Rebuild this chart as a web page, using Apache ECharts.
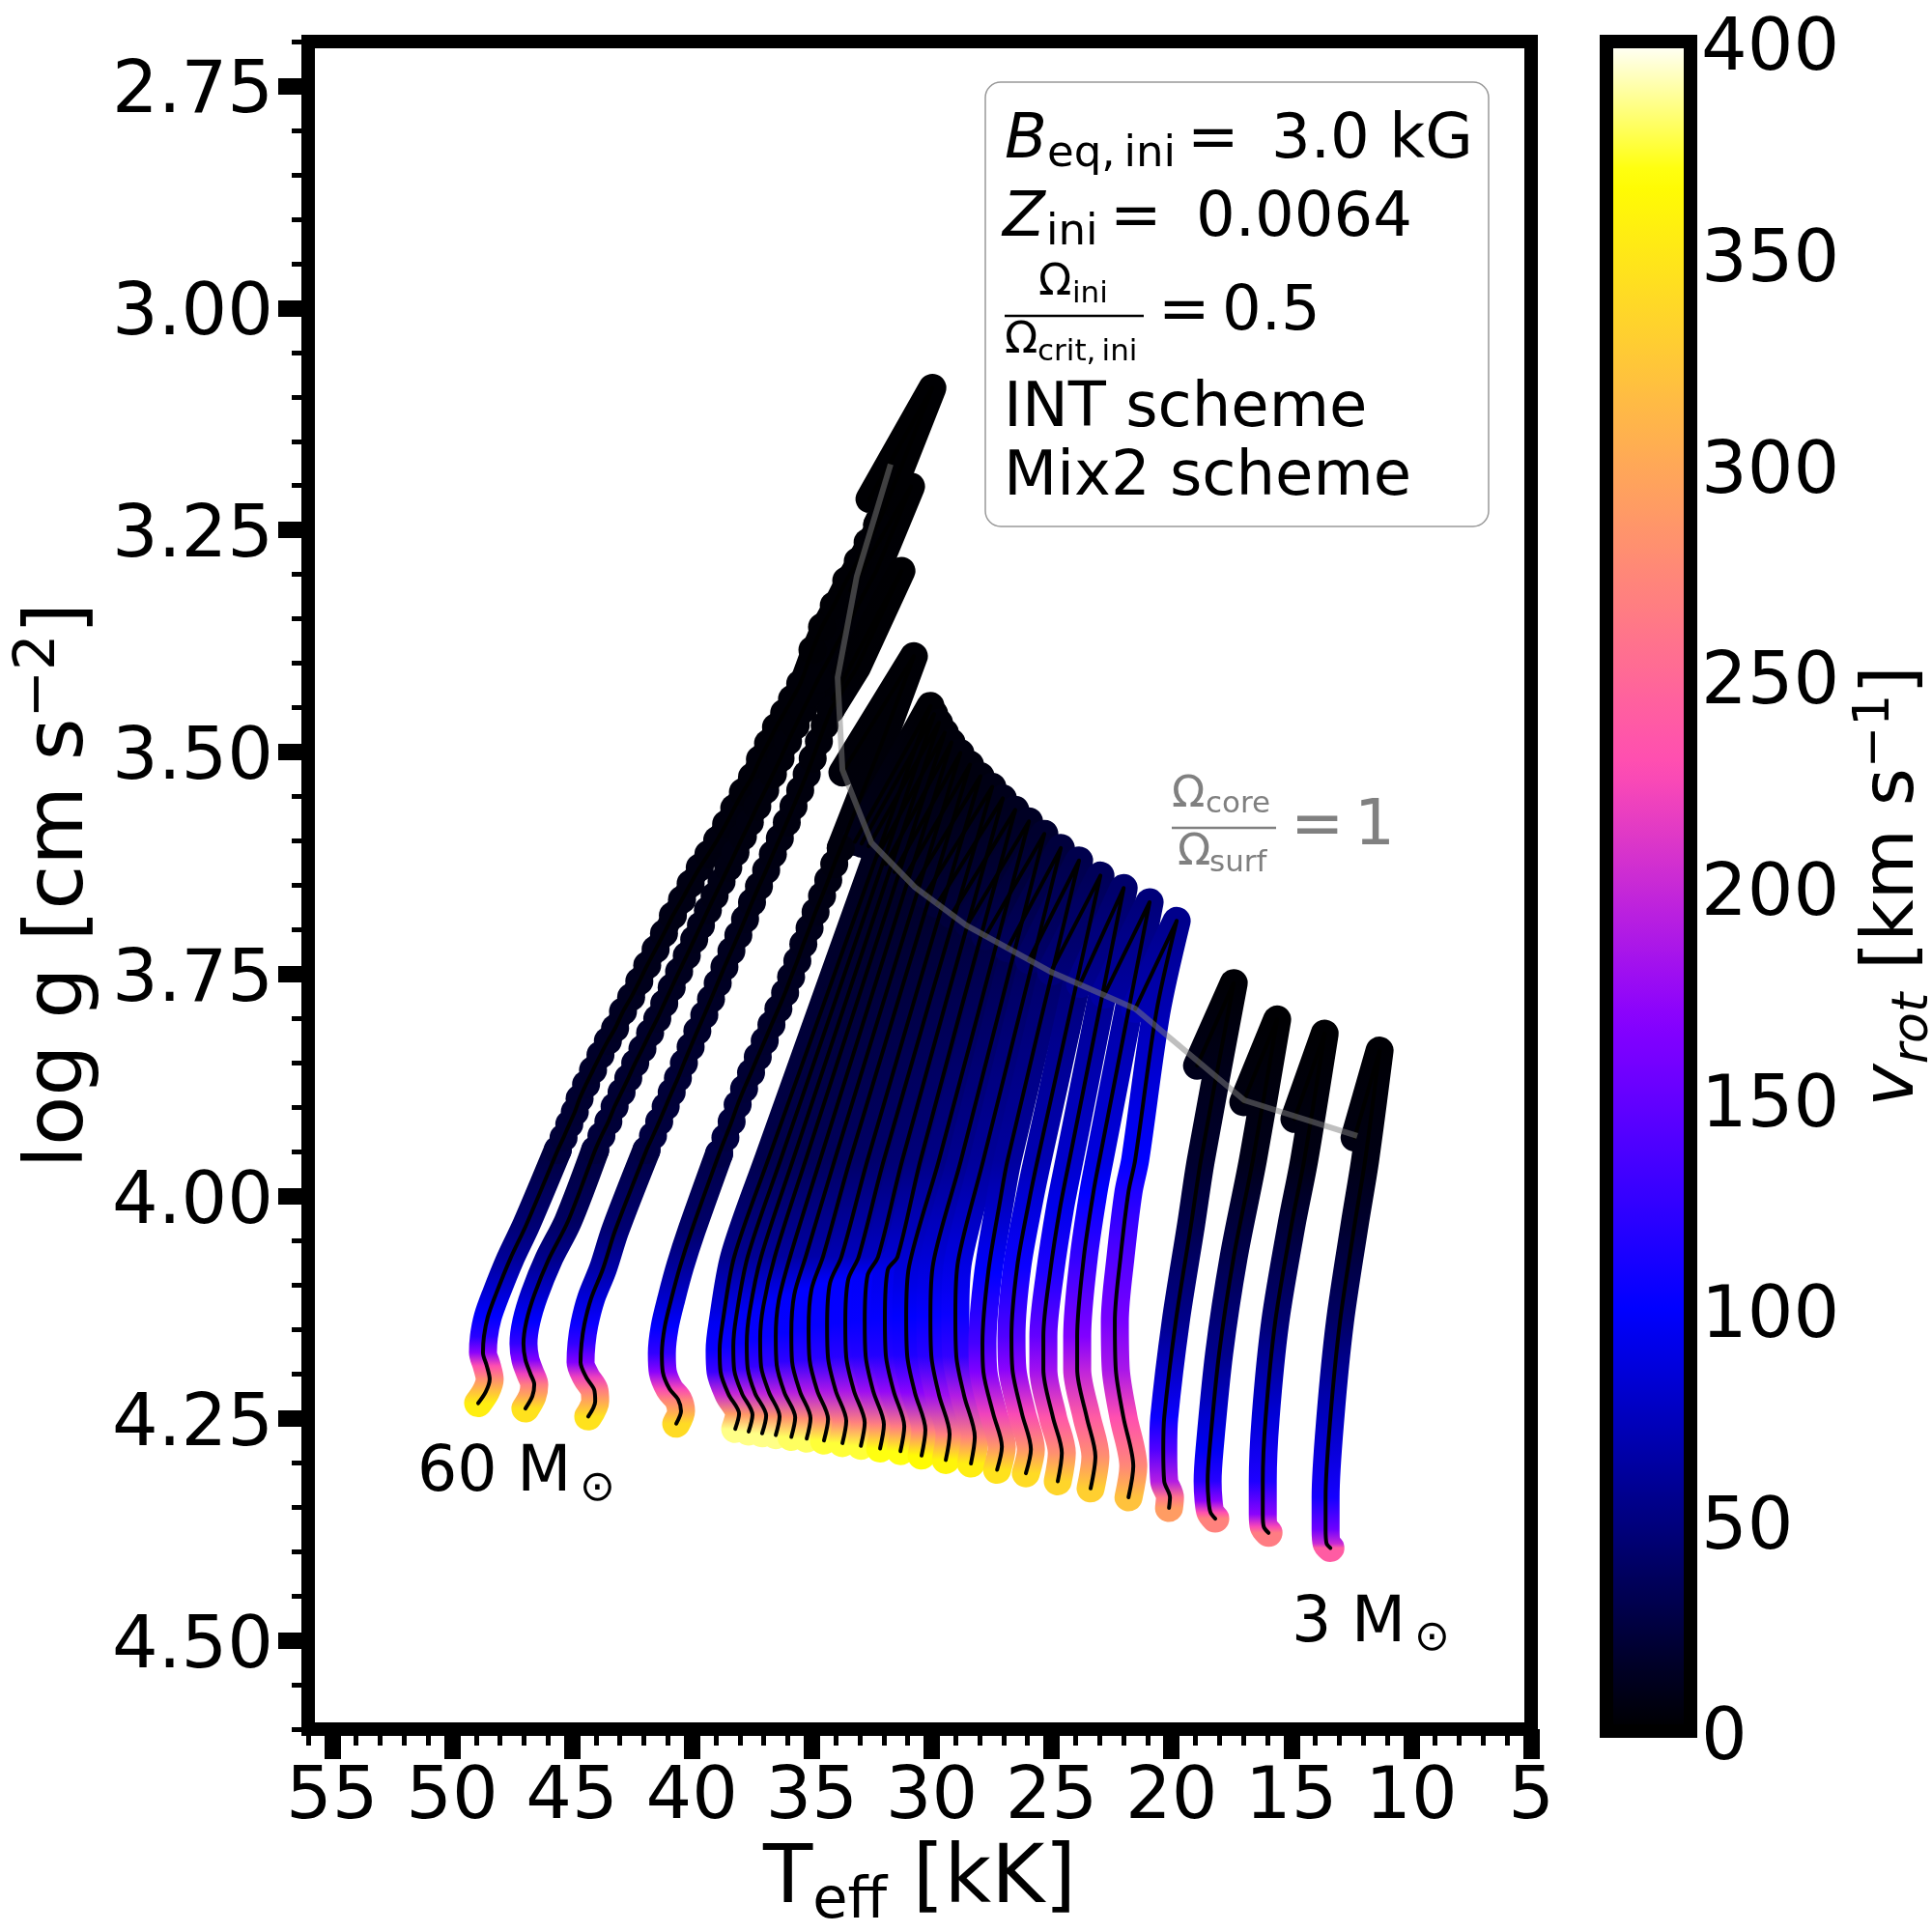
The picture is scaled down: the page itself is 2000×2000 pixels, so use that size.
<!DOCTYPE html>
<html>
<head>
<meta charset="utf-8">
<title>Teff - log g tracks</title>
<script src="https://cdn.jsdelivr.net/npm/echarts@6/dist/echarts.min.js"></script>
<style>
  html, body { margin: 0; padding: 0; background: #fff; }
  #chart { width: 2000px; height: 2000px; }
</style>
</head>
<body>
<div id="chart"></div>
<script>
'use strict';
// tick labels
const xMajor = [55, 50, 45, 40, 35, 30, 25, 20, 15, 10, 5];
const yMajor = [2.75, 3, 3.25, 3.5, 3.75, 4, 4.25, 4.5];

// each row is [Teff kK, log g, vrot km/s]
const m1Low = [[48.91,4.233,355],[48.59,4.220,320],[48.43,4.206,280],[48.55,4.191,230],[48.71,4.176,170],[48.67,4.158,120],[48.51,4.136,100],[48.18,4.111,85],[47.58,4.071,60],[46.90,4.032,45]];
const m1Mid = [[45.59,3.948,24],[45.35,3.934,22],[45.11,3.919,21],[44.88,3.905,20],[44.68,3.890,19],[44.41,3.874,18],[44.12,3.858,17],[43.81,3.841,16],[43.50,3.825,15],[43.20,3.811,14],[42.87,3.792,13],[42.53,3.776,12],[42.19,3.758,11],[41.86,3.740,10],[41.51,3.722,10],[41.16,3.704,9],[40.79,3.684,8],[40.41,3.666,8],[40.05,3.648,7],[39.67,3.630,7],[39.31,3.615,6],[38.94,3.599,6],[38.57,3.581,5],[38.23,3.563,5],[37.87,3.545,4],[37.49,3.528,4],[37.16,3.508,4],[36.82,3.490,3],[36.49,3.472,3],[36.15,3.456,3],[35.82,3.440,3],[35.48,3.423,3],[34.97,3.385,2],[34.57,3.359,2],[34.08,3.335,2],[33.56,3.307,2],[33.08,3.285,2],[32.67,3.264,2],[32.27,3.244,2]];
const m1Top = [[31.87,3.220,1],[29.97,3.090,1],[32.59,3.215,1]];

const m2Low = [[46.94,4.239,345],[46.65,4.225,300],[46.57,4.212,265],[46.73,4.200,220],[46.94,4.184,165],[47.02,4.166,125],[46.90,4.141,100],[46.57,4.111,80],[45.97,4.071,55],[45.16,4.028,38]];
const m2Mid = [[44.03,3.948,24],[43.77,3.932,23],[43.48,3.916,22],[43.22,3.899,21],[42.93,3.883,20],[42.65,3.867,19],[42.36,3.850,18],[42.06,3.834,17],[41.74,3.816,16],[41.44,3.800,15],[41.15,3.783,14],[40.84,3.765,13],[40.53,3.747,12],[40.21,3.729,11],[39.90,3.711,10],[39.62,3.695,10],[39.33,3.678,9],[39.05,3.662,8],[38.76,3.646,8],[38.48,3.630,7],[38.18,3.613,7],[37.87,3.595,6],[37.58,3.579,6],[37.27,3.561,5],[36.94,3.543,5],[36.62,3.525,4],[36.30,3.507,4],[35.99,3.488,4],[35.67,3.470,3],[35.35,3.452,3],[35.02,3.434,3],[34.74,3.418,3]];
const m2Top = [[32.31,3.296,2],[30.86,3.201,1],[33.40,3.318,1]];

const m3Low = [[44.32,4.248,345],[44.03,4.231,300],[44.07,4.218,265],[44.40,4.204,220],[44.64,4.187,165],[44.60,4.166,125],[44.48,4.144,105],[44.20,4.115,85],[43.71,4.082,65],[43.19,4.038,45]];
const m3Mid = [[41.89,3.948,26],[41.62,3.932,25],[41.36,3.916,24],[41.09,3.899,23],[40.84,3.883,22],[40.58,3.867,21],[40.33,3.850,20],[40.05,3.832,18],[39.77,3.814,17],[39.48,3.796,16],[39.20,3.778,15],[38.92,3.760,14],[38.64,3.742,13],[38.35,3.724,12],[38.06,3.706,11],[37.78,3.688,10],[37.49,3.669,9],[37.20,3.651,8],[36.90,3.633,8],[36.62,3.615,7],[36.33,3.597,7],[36.04,3.579,6],[35.76,3.561,6],[35.48,3.543,5],[35.21,3.525,5],[34.96,3.507,4],[34.70,3.488,4],[34.46,3.470,3],[34.20,3.452,3]];
const m3Top = [[33.12,3.405,2],[31.26,3.296,1],[34.12,3.440,1]];

const m4Low = [[40.65,4.256,340],[40.45,4.242,300],[40.57,4.229,270],[40.93,4.217,225],[41.21,4.198,170],[41.25,4.177,125],[41.13,4.147,100],[40.85,4.115,80],[40.49,4.079,60],[40.00,4.038,42]];
const m4Mid = [[38.86,3.952,28],[38.60,3.934,26],[38.34,3.916,24],[38.09,3.897,23],[37.82,3.879,22],[37.53,3.861,20],[37.25,3.843,19],[36.96,3.825,18],[36.68,3.807,16],[36.39,3.789,15],[36.11,3.771,14],[35.86,3.753,13],[35.60,3.735,12],[35.35,3.716,11],[35.09,3.698,10],[34.84,3.680,9],[34.57,3.662,8],[34.31,3.644,7],[34.06,3.626,6],[33.79,3.608,5]];
const m4Top = [[32.15,3.495,3],[30.74,3.392,2],[33.72,3.523,1]];

const f01 = [[38.19,4.262,385],[38.03,4.245,290],[38.47,4.223,200],[38.80,4.198,130],[38.84,4.173,105],[38.72,4.143,95],[38.23,4.068,55],[36.82,3.959,30],[30.05,3.448,2],[33.20,3.601,1]];
const f02 = [[37.63,4.265,385],[37.47,4.246,288],[37.91,4.222,198],[38.23,4.196,130],[38.27,4.169,105],[38.15,4.136,95],[37.67,4.068,56],[36.30,3.959,31],[29.89,3.457,2],[32.92,3.603,1]];
const f03 = [[37.07,4.267,385],[36.90,4.247,286],[37.36,4.222,196],[37.67,4.194,128],[37.71,4.166,105],[37.59,4.130,96],[37.11,4.068,58],[35.78,3.959,32],[29.69,3.467,3],[32.63,3.606,2]];
const f04 = [[36.50,4.269,385],[36.34,4.248,284],[36.78,4.221,194],[37.11,4.192,127],[37.15,4.161,104],[37.02,4.124,97],[36.54,4.068,60],[35.25,3.959,33],[29.45,3.478,3],[32.27,3.617,2]];
const f05 = [[35.85,4.271,380],[35.69,4.249,282],[36.14,4.221,192],[36.46,4.190,125],[36.50,4.158,104],[36.38,4.118,98],[35.90,4.068,62],[34.65,3.959,34],[29.17,3.489,4],[31.91,3.626,3]];
const f06 = [[35.21,4.273,380],[35.05,4.250,278],[35.49,4.220,190],[35.82,4.186,123],[35.85,4.154,103],[35.73,4.111,99],[35.25,4.068,64],[34.04,3.959,36],[28.80,3.501,5],[31.55,3.635,4]];
const f07 = [[34.49,4.275,375],[34.32,4.251,274],[34.77,4.219,188],[35.09,4.184,122],[35.13,4.149,103],[35.01,4.105,100],[34.53,4.068,66],[33.40,3.959,38],[28.40,3.514,5],[31.14,3.642,4]];
const f08 = [[33.72,4.278,375],[33.56,4.253,270],[34.00,4.219,185],[34.32,4.182,120],[34.36,4.146,103],[34.24,4.098,100],[33.76,4.068,70],[32.67,3.959,40],[27.96,3.527,6],[30.74,3.651,5]];
const f09 = [[32.95,4.281,375],[32.79,4.255,270],[33.24,4.219,185],[33.56,4.181,120],[33.60,4.143,103],[33.48,4.094,100],[33.04,4.068,74],[31.99,3.959,42],[27.47,3.539,8],[30.26,3.660,7]];
const f10 = [[32.15,4.284,370],[31.99,4.257,268],[32.43,4.220,180],[32.75,4.180,118],[32.79,4.141,103],[32.67,4.089,98],[32.23,4.068,76],[31.22,3.959,45],[27.03,3.552,10],[29.77,3.671,9]];
const f11 = [[31.30,4.287,370],[31.14,4.259,265],[31.58,4.220,175],[31.91,4.179,117],[31.95,4.137,102],[31.83,4.083,92],[31.42,4.068,82],[30.46,3.959,48],[26.51,3.565,12],[29.17,3.683,11]];
const f12 = [[30.42,4.292,365],[30.26,4.263,265],[30.70,4.221,170],[31.02,4.179,115],[31.06,4.135,100],[30.94,4.079,85],[29.69,3.959,52],[25.94,3.578,14],[28.48,3.693,13]];
const f13 = [[29.41,4.297,360],[29.25,4.268,268],[29.69,4.224,180],[30.01,4.180,120],[30.05,4.135,102],[29.93,4.075,85],[28.77,3.959,56],[25.30,3.592,18],[27.76,3.707,17]];
const f14 = [[28.36,4.301,355],[28.20,4.271,270],[28.64,4.225,190],[28.97,4.180,125],[29.01,4.133,105],[28.89,4.072,88],[27.84,3.959,60],[24.61,3.608,24],[26.83,3.721,23]];
const f15 = [[27.27,4.308,345],[27.07,4.282,285],[27.43,4.245,220],[27.84,4.198,165],[27.88,4.166,135],[27.64,4.086,100],[27.15,4.006,75],[26.83,3.959,62],[23.85,3.622,30],[25.94,3.734,29]];
const f16 = [[26.07,4.312,340],[25.86,4.285,285],[26.23,4.245,225],[26.63,4.195,170],[26.67,4.158,140],[26.43,4.079,105],[25.94,4.006,85],[25.58,3.959,70],[22.96,3.639,35],[25.02,3.747,34]];
const f17 = [[24.74,4.321,335],[24.57,4.289,280],[24.94,4.249,235],[25.34,4.195,180],[25.34,4.158,150],[25.06,4.086,115],[24.65,4.014,92],[24.25,3.959,80],[21.99,3.653,42],[23.81,3.761,41]];
const f18 = [[23.37,4.329,330],[23.17,4.293,280],[23.53,4.249,240],[23.93,4.195,195],[23.93,4.158,165],[23.65,4.068,125],[23.25,3.995,100],[23.00,3.959,88],[20.91,3.669,48],[22.80,3.773,47]];
const f19 = [[21.79,4.339,320],[21.59,4.304,275],[22.00,4.249,230],[22.32,4.195,185],[22.36,4.141,160],[22.12,4.068,140],[21.79,3.995,115],[21.51,3.959,100],[20.63,3.793,70],[19.78,3.690,55],[21.51,3.789,50]];

const l1 = [[20.10,4.351,290],[20.06,4.339,260],[20.30,4.321,190],[20.34,4.285,140],[20.30,4.249,105],[19.82,4.141,55],[19.18,4.032,30],[18.77,3.959,18],[17.40,3.760,2],[18.93,3.853,2]];
const l2 = [[18.17,4.363,270],[18.37,4.356,230],[18.45,4.343,170],[18.49,4.321,120],[18.41,4.285,95],[18.01,4.177,55],[17.40,4.068,30],[16.60,3.959,10],[15.59,3.801,1],[17.00,3.894,1]];
const l3 = [[15.95,4.379,265],[16.15,4.372,225],[16.19,4.358,170],[16.19,4.321,115],[16.07,4.249,85],[15.67,4.141,45],[14.99,4.032,22],[14.46,3.959,8],[13.61,3.817,1],[14.87,3.913,1]];
const l4 = [[13.37,4.396,240],[13.53,4.391,200],[13.57,4.375,155],[13.57,4.339,110],[13.37,4.249,75],[12.97,4.141,40],[12.36,4.032,18],[11.92,3.959,8],[11.32,3.836,2],[12.36,3.934,1]];

// the Omega_core / Omega_surf = 1 line
const unityLine = [[31.71,3.176],[33.12,3.302],[33.92,3.416],[33.72,3.520],[32.51,3.602],[30.70,3.652],[28.56,3.695],[25.06,3.747],[21.51,3.789],[16.96,3.892],[12.25,3.932]];

const FONT = '"DejaVu Sans"';
const vMax = 400;

// matplotlib gnuplot2
function clamp(v) { return Math.max(0, Math.min(1, v)); }
function cmap(v) {
  const t = v / vMax;
  const r = clamp(t / 0.32 - 0.78125);
  const g = clamp(2 * t - 0.84);
  let b;
  if (t < 0.25) b = 4 * t;
  else if (t < 0.42) b = 1;
  else if (t < 0.92) b = -2 * t + 1.84;
  else b = t / 0.08 - 11.5;
  b = clamp(b);
  return 'rgb(' + Math.round(r * 255) + ',' + Math.round(g * 255) + ',' + Math.round(b * 255) + ')';
}

function note(text, x, base, size, extra) {
  const o = extra || {};
  return {
    type: 'text',
    z: 50,
    style: {
      text: text,
      x: x,
      y: base - 0.25 * size,
      font: (o.italic ? 'italic ' : '') + size + 'px ' + FONT,
      fill: o.color || '#000',
      textVerticalAlign: 'middle',
    },
  };
}
function bar(x0, x1, y, color, w) {
  return { type: 'line', z: 50, shape: { x1: x0, y1: y, x2: x1, y2: y }, style: { stroke: color, lineWidth: w } };
}

const GREY = '#808080';
const texts = [
  { type: 'rect', z: 49, shape: { x: 1020, y: 85, width: 521, height: 460, r: 16 }, style: { fill: '#fff', stroke: '#999', lineWidth: 1.5 } },
  note('B', 1040, 162, 64, { italic: true }),
  note('eq,\u2009ini', 1084, 172, 45),
  note('=', 1229, 162, 64),
  note('3.0 kG', 1316, 162, 64),
  note('Z', 1038, 243, 64, { italic: true }),
  note('ini', 1083, 253, 45),
  note('=', 1149, 243, 64),
  note('0.0064', 1238, 243, 64),
  note('Ω', 1075, 305, 45),
  note('ini', 1110, 313, 31),
  bar(1040, 1184, 327, '#000', 2.5),
  note('Ω', 1040, 365, 45),
  note('crit,\u2009ini', 1074, 373, 31),
  note('=', 1199, 340, 64),
  note('0.5', 1265, 340, 64),
  note('INT scheme', 1039, 440, 64),
  note('Mix2 scheme', 1039, 511, 64),
  note('60 M', 432, 1542, 65),
  note('⊙', 600, 1553, 44),
  note('3 M', 1337, 1698, 65),
  note('⊙', 1464, 1708, 44),
  note('Ω', 1213, 835, 45, { color: GREY }),
  note('core', 1248, 841, 31, { color: GREY }),
  bar(1213, 1321, 857, GREY, 2.5),
  note('Ω', 1219, 895, 45, { color: GREY }),
  note('surf', 1252, 902, 31, { color: GREY }),
  note('=', 1336, 873, 66, { color: GREY }),
  note('1', 1402, 873, 66, { color: GREY }),
];

function cbarStops() {
  const stops = [];
  for (let i = 0; i <= 80; i++) stops.push({ offset: i / 80, color: cmap(i / 80 * vMax) });
  return stops;
}

const labelStyle = { fontSize: 75, fontFamily: FONT, color: '#000' };
const lineBlack = { show: true, onZero: false, lineStyle: { color: '#000', width: 14, cap: 'square' } };

const chart = echarts.init(document.getElementById('chart'), null, { renderer: 'canvas' });
chart.setOption({
  animation: false,
  backgroundColor: '#fff',
  grid: [
    { left: 319, top: 43, width: 1266, height: 1747, outerBoundsMode: 'none', show: true, borderColor: '#000', borderWidth: 14, backgroundColor: 'transparent' },
    { left: 1663, top: 43, width: 87, height: 1749, outerBoundsMode: 'none', show: true, z: 10, borderColor: '#000', borderWidth: 14, backgroundColor: 'transparent' },
  ],
  xAxis: [
    {
      type: 'value', gridIndex: 0, inverse: true, min: 5, max: 56, position: 'bottom',
      axisLine: lineBlack, splitLine: { show: false },
      axisTick: { show: true, length: 31, lineStyle: { width: 17, color: '#000' }, customValues: xMajor },
      axisLabel: Object.assign({ customValues: xMajor, margin: 35 }, labelStyle),
      name: '{t|T}{s|eff}{t| [kK]}', nameLocation: 'middle', nameGap: 106,
      nameTextStyle: {
        rich: {
          t: { fontSize: 84, fontFamily: FONT, color: '#000' },
          s: { fontSize: 59, fontFamily: FONT, color: '#000', padding: [44, 0, 0, 0] },
        },
      },
    },
    {
      type: 'value', gridIndex: 0, inverse: true, min: 5, max: 56, interval: 1, position: 'bottom',
      axisLine: { show: false }, splitLine: { show: false }, axisLabel: { show: false },
      axisTick: { show: true, length: 17, lineStyle: { width: 5, color: '#000' } },
    },
    {
      type: 'category', gridIndex: 1, data: ['vrot'], show: false,
    },
  ],
  yAxis: [
    {
      type: 'value', gridIndex: 0, inverse: true, min: 2.7, max: 4.6, position: 'left',
      axisLine: lineBlack, splitLine: { show: false },
      axisTick: { show: true, length: 31, lineStyle: { width: 17, color: '#000' }, customValues: yMajor },
      axisLabel: Object.assign({ customValues: yMajor, margin: 36, verticalAlign: 'top', lineHeight: 16, formatter: (v) => v.toFixed(2) }, labelStyle),
      name: '{t|log g [cm s}{u|−2}{t|]}', nameLocation: 'middle', nameGap: 198, nameRotate: 90,
      nameTextStyle: {
        rich: {
          t: { fontSize: 84, fontFamily: FONT, color: '#000' },
          u: { fontSize: 59, fontFamily: FONT, color: '#000', padding: [0, 0, 44, 0] },
        },
      },
    },
    {
      type: 'value', gridIndex: 0, inverse: true, min: 2.7, max: 4.6, interval: 0.05, position: 'left',
      axisLine: { show: false }, splitLine: { show: false }, axisLabel: { show: false },
      axisTick: { show: true, length: 17, lineStyle: { width: 5, color: '#000' } },
    },
    {
      type: 'value', gridIndex: 1, min: 0, max: vMax, interval: 50, position: 'right',
      axisLine: { show: false }, axisTick: { show: false }, splitLine: { show: false },
      axisLabel: Object.assign({ margin: 11, verticalAlign: 'top', lineHeight: 20 }, labelStyle),
      name: '{i|v}{r|rot}{t| [km s}{u|−1}{t|]}', nameLocation: 'middle', nameGap: 165, nameRotate: 90,
      nameTextStyle: {
        rich: {
          t: { fontSize: 75, fontFamily: FONT, color: '#000' },
          i: { fontSize: 75, fontFamily: FONT, fontStyle: 'italic', color: '#000' },
          r: { fontSize: 52, fontFamily: FONT, fontStyle: 'italic', color: '#000', padding: [40, 0, 0, 0] },
          u: { fontSize: 52, fontFamily: FONT, color: '#000', padding: [0, 0, 40, 0] },
        },
      },
    },
  ],
  series: [],
  graphic: { elements: texts },
});

// colour runs along log g, so the gradient is set in pixels of the plot
function gradientFor(rows) {
  let tip = 0;
  rows.forEach((r, i) => { if (r[1] < rows[tip][1]) tip = i; });
  const toY = (g) => chart.convertToPixel({ xAxisIndex: 0, yAxisIndex: 0 }, [30, g])[1];
  const y0 = toY(rows[0][1]);
  const y1 = toY(rows[tip][1]);
  const stops = [];
  for (let i = 0; i <= tip; i++) {
    stops.push({ offset: (y0 - toY(rows[i][1])) / (y0 - y1), color: cmap(rows[i][2]) });
  }
  return new echarts.graphic.LinearGradient(0, y0, 0, y1, stops, true);
}

function thick(rows, width, smooth) {
  return {
    type: 'line', xAxisIndex: 0, yAxisIndex: 0, data: rows, showSymbol: false, symbol: 'none',
    smooth: smooth, z: 2, silent: true, clip: false,
    lineStyle: { width: width, color: gradientFor(rows), cap: 'round', join: 'round' },
  };
}
function thin(rows, smooth) {
  return {
    type: 'line', xAxisIndex: 0, yAxisIndex: 0, data: rows, showSymbol: false, symbol: 'none',
    smooth: smooth, z: 3, silent: true, clip: false,
    lineStyle: { width: 4, color: '#000', cap: 'round', join: 'round' },
  };
}
function dots(rows) {
  return {
    type: 'scatter', xAxisIndex: 0, yAxisIndex: 0, data: rows, symbolSize: 29, z: 2, silent: true,
    itemStyle: { color: (p) => cmap(p.value[2]), opacity: 1 },
  };
}

const massive = [[m1Low, m1Mid, m1Top], [m2Low, m2Mid, m2Top], [m3Low, m3Mid, m3Top], [m4Low, m4Mid, m4Top]];
const family = [f01, f02, f03, f04, f05, f06, f07, f08, f09, f10, f11, f12, f13, f14, f15, f16, f17, f18, f19];
const lowMass = [l1, l2, l3, l4];

const series = [];
const lines = [];
massive.forEach((m) => {
  const low = m[0].concat([m[1][0]]);
  const top = [m[1][m[1].length - 1]].concat(m[2]);
  series.push(thick(low, 29, 0.3), thick(m[1], 23, false), dots(m[1]), thick(top, 29, false));
  lines.push(thin(m[0].concat(m[1]), 0.3), thin(top, false));
});
family.concat(lowMass).forEach((t) => {
  series.push(thick(t, 29, 0.3));
  lines.push(thin(t, 0.3));
});

const colorbar = {
  type: 'bar', xAxisIndex: 2, yAxisIndex: 2, data: [vMax], barWidth: '100%', silent: true, z: 2,
  itemStyle: { color: new echarts.graphic.LinearGradient(0, 1, 0, 0, cbarStops()) },
};
const unity = {
  type: 'line', xAxisIndex: 0, yAxisIndex: 0, data: unityLine, showSymbol: false, symbol: 'none', z: 4, silent: true,
  lineStyle: { width: 6, color: GREY, opacity: 0.5 },
};

chart.setOption({ series: series.concat(lines, [unity, colorbar]) });
</script>
</body>
</html>
